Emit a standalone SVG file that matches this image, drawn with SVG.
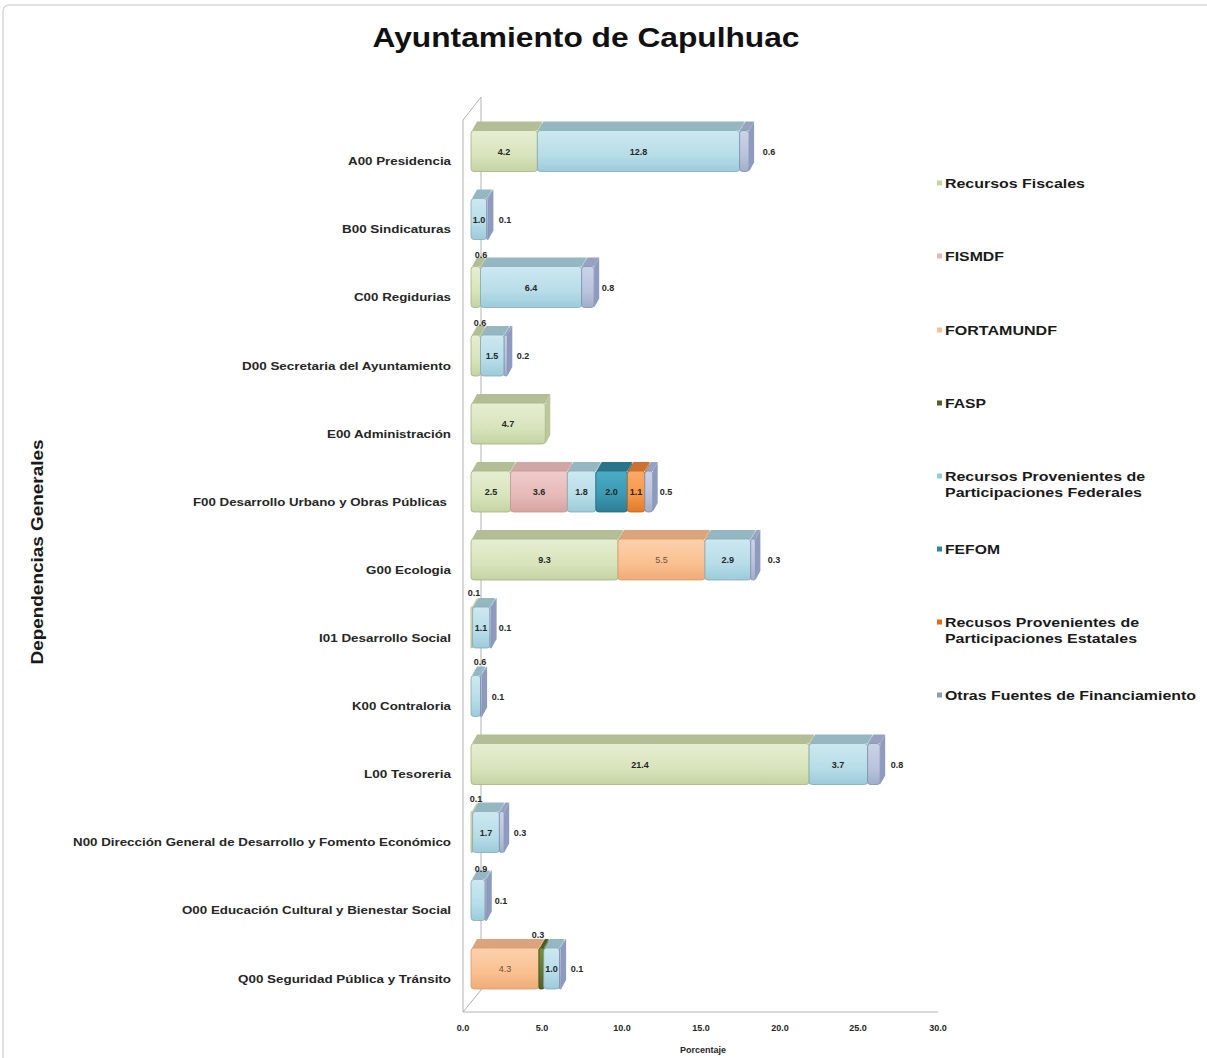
<svg xmlns="http://www.w3.org/2000/svg" width="1207" height="1058" viewBox="0 0 1207 1058">
<defs>
<linearGradient id="gFis" x1="0" y1="0" x2="0" y2="1"><stop offset="0" stop-color="#e6eed2"/><stop offset="0.6" stop-color="#d8e4bc"/><stop offset="1" stop-color="#c5d3a3"/></linearGradient>
<linearGradient id="gPink" x1="0" y1="0" x2="0" y2="1"><stop offset="0" stop-color="#efcccb"/><stop offset="0.6" stop-color="#e6b9b8"/><stop offset="1" stop-color="#d6a3a2"/></linearGradient>
<linearGradient id="gForta" x1="0" y1="0" x2="0" y2="1"><stop offset="0" stop-color="#fcd1ad"/><stop offset="0.6" stop-color="#fac090"/><stop offset="1" stop-color="#eeab77"/></linearGradient>
<linearGradient id="gFasp" x1="0" y1="0" x2="0" y2="1"><stop offset="0" stop-color="#77933c"/><stop offset="1" stop-color="#4f6228"/></linearGradient>
<linearGradient id="gFed" x1="0" y1="0" x2="0" y2="1"><stop offset="0" stop-color="#cde8f0"/><stop offset="0.6" stop-color="#b7dde8"/><stop offset="1" stop-color="#9ccbd9"/></linearGradient>
<linearGradient id="gFefom" x1="0" y1="0" x2="0" y2="1"><stop offset="0" stop-color="#4bacc6"/><stop offset="0.6" stop-color="#3b98b1"/><stop offset="1" stop-color="#2c7d93"/></linearGradient>
<linearGradient id="gEst" x1="0" y1="0" x2="0" y2="1"><stop offset="0" stop-color="#f9ab6b"/><stop offset="0.6" stop-color="#f79646"/><stop offset="1" stop-color="#e07a2a"/></linearGradient>
<linearGradient id="gOtr" x1="0" y1="0" x2="0" y2="1"><stop offset="0" stop-color="#cbd3e6"/><stop offset="0.6" stop-color="#b9c3dc"/><stop offset="1" stop-color="#a2aeca"/></linearGradient>
</defs>
<style>
text{font-family:"Liberation Sans",Arial,sans-serif;}
.cat{font-size:10px;font-weight:bold;fill:#262626;text-anchor:end;}
.val{font-size:9px;font-weight:bold;fill:#262626;text-anchor:middle;}
.valo{font-size:9px;fill:#6b5240;text-anchor:middle;}
.tick{font-size:9px;font-weight:bold;fill:#262626;text-anchor:middle;}
.leg{font-size:13px;font-weight:bold;fill:#1a1a1a;}
.wall{stroke:#b3b3b3;stroke-width:1;fill:none;}
.fis-f{fill:url(#gFis);stroke:#a6b282;stroke-width:0.8;}
.fis-t{fill:#b4be96;}
.fis-s{fill:#bcc79c;}
.pink-f{fill:url(#gPink);stroke:#c49696;stroke-width:0.8;}
.pink-t{fill:#cfa7a6;}
.pink-s{fill:#d4a9a8;}
.forta-f{fill:url(#gForta);stroke:#d89d70;stroke-width:0.8;}
.forta-t{fill:#dba47c;}
.forta-s{fill:#e3a87c;}
.fasp-f{fill:url(#gFasp);stroke:#3d4d1e;stroke-width:0.8;}
.fasp-t{fill:#4a5c25;}
.fasp-s{fill:#56702c;}
.fed-f{fill:url(#gFed);stroke:#86aab5;stroke-width:0.8;}
.fed-t{fill:#95b7c2;}
.fed-s{fill:#9dc2cd;}
.fefom-f{fill:url(#gFefom);stroke:#226b80;stroke-width:0.8;}
.fefom-t{fill:#2a7388;}
.fefom-s{fill:#2d7a8f;}
.est-f{fill:url(#gEst);stroke:#c4661d;stroke-width:0.8;}
.est-t{fill:#cc7230;}
.est-s{fill:#dd782a;}
.otr-f{fill:url(#gOtr);stroke:#7f8db0;stroke-width:0.8;}
.otr-t{fill:#96a2c0;}
.otr-s{fill:#8e9bbe;}
</style>
<rect x="0" y="0" width="1207" height="1058" fill="#ffffff"/>
<rect x="3" y="5" width="1214" height="1062" rx="6" fill="#ffffff" stroke="#d9d9d9" stroke-width="1.5"/>

<text x="586" y="47" font-size="27" font-weight="bold" text-anchor="middle" fill="#111111" textLength="427" lengthAdjust="spacingAndGlyphs">Ayuntamiento de Capulhuac</text>

<text transform="translate(43,552) rotate(-90)" font-size="16" font-weight="bold" text-anchor="middle" fill="#1a1a1a" textLength="225" lengthAdjust="spacingAndGlyphs">Dependencias Generales</text>

<g id="axes">
<line class="wall" x1="463" y1="120" x2="463" y2="1012"/>
<line class="wall" x1="481" y1="97" x2="481" y2="990"/>
<line class="wall" x1="463" y1="120" x2="481" y2="97"/>
<line class="wall" x1="463" y1="1012" x2="481" y2="990"/>
<line class="wall" x1="463" y1="1012" x2="938" y2="1012"/>
<text class="tick" x="463" y="1031">0.0</text>
<text class="tick" x="542" y="1031">5.0</text>
<text class="tick" x="622" y="1031">10.0</text>
<text class="tick" x="701" y="1031">15.0</text>
<text class="tick" x="780" y="1031">20.0</text>
<text class="tick" x="858" y="1031">25.0</text>
<text class="tick" x="938" y="1031">30.0</text>
<text class="tick" x="703" y="1053">Porcentaje</text>
</g>

<g id="cat-A00" transform="translate(0,161.5)">
<text class="cat" x="451" y="3.5" textLength="103" lengthAdjust="spacingAndGlyphs">A00 Presidencia</text>
<polygon class="fis-t" points="472,-31 477,-40 542.4,-40 537.4,-31"/><polygon class="fis-s" points="537.4,-31 542.4,-40 542.4,1 537.4,10"/><rect class="fis-f" x="471" y="-31" width="66.4" height="41" rx="3"/>
<polygon class="fed-t" points="538.4,-31 543.4,-40 744.6,-40 739.6,-31"/><polygon class="fed-s" points="739.6,-31 744.6,-40 744.6,1 739.6,10"/><rect class="fed-f" x="537.4" y="-31" width="202.2" height="41" rx="3"/>
<polygon class="otr-t" points="740.6,-31 745.6,-40 754.1,-40 749.1,-31"/><polygon class="otr-s" points="749.1,-31 754.1,-40 754.1,1 749.1,10"/><rect class="otr-f" x="739.6" y="-31" width="9.5" height="41" rx="3"/>
<text class="val" x="504" y="-7">4.2</text><text class="val" x="638.5" y="-7">12.8</text><text class="val" x="769" y="-7">0.6</text>
</g>

<g id="cat-B00" transform="translate(0,229.5)">
<text class="cat" x="451" y="3.5" textLength="109" lengthAdjust="spacingAndGlyphs">B00 Sindicaturas</text>
<polygon class="fed-t" points="472,-31 477,-40 491.8,-40 486.8,-31"/><polygon class="fed-s" points="486.8,-31 491.8,-40 491.8,1 486.8,10"/><rect class="fed-f" x="471" y="-31" width="15.8" height="41" rx="3"/>
<polygon class="otr-t" points="487.8,-31 492.8,-40 493.4,-40 488.4,-31"/><polygon class="otr-s" points="488.4,-31 493.4,-40 493.4,1 488.4,10"/><rect class="otr-f" x="486.8" y="-31" width="1.6" height="41" rx="0.8"/>
<text class="val" x="479" y="-7">1.0</text><text class="val" x="505" y="-7">0.1</text>
</g>

<g id="cat-C00" transform="translate(0,297.5)">
<text class="cat" x="451" y="3.5" textLength="97" lengthAdjust="spacingAndGlyphs">C00 Regidurias</text>
<polygon class="fis-t" points="472,-31 477,-40 485.5,-40 480.5,-31"/><polygon class="fis-s" points="480.5,-31 485.5,-40 485.5,1 480.5,10"/><rect class="fis-f" x="471" y="-31" width="9.5" height="41" rx="3"/>
<polygon class="fed-t" points="481.5,-31 486.5,-40 586.6,-40 581.6,-31"/><polygon class="fed-s" points="581.6,-31 586.6,-40 586.6,1 581.6,10"/><rect class="fed-f" x="480.5" y="-31" width="101.1" height="41" rx="3"/>
<polygon class="otr-t" points="582.6,-31 587.6,-40 599.2,-40 594.2,-31"/><polygon class="otr-s" points="594.2,-31 599.2,-40 599.2,1 594.2,10"/><rect class="otr-f" x="581.6" y="-31" width="12.6" height="41" rx="3"/>
<text class="val" x="481" y="-40">0.6</text><text class="val" x="531" y="-7">6.4</text><text class="val" x="608" y="-7">0.8</text>
</g>

<g id="cat-D00" transform="translate(0,366)">
<text class="cat" x="451" y="3.5" textLength="209" lengthAdjust="spacingAndGlyphs">D00 Secretaria del Ayuntamiento</text>
<polygon class="fis-t" points="472,-31 477,-40 485.5,-40 480.5,-31"/><polygon class="fis-s" points="480.5,-31 485.5,-40 485.5,1 480.5,10"/><rect class="fis-f" x="471" y="-31" width="9.5" height="41" rx="3"/>
<polygon class="fed-t" points="481.5,-31 486.5,-40 509.2,-40 504.2,-31"/><polygon class="fed-s" points="504.2,-31 509.2,-40 509.2,1 504.2,10"/><rect class="fed-f" x="480.5" y="-31" width="23.7" height="41" rx="3"/>
<polygon class="otr-t" points="505.2,-31 510.2,-40 512.3,-40 507.3,-31"/><polygon class="otr-s" points="507.3,-31 512.3,-40 512.3,1 507.3,10"/><rect class="otr-f" x="504.2" y="-31" width="3.1" height="41" rx="1.5"/>
<text class="val" x="480" y="-40">0.6</text><text class="val" x="492" y="-7">1.5</text><text class="val" x="523" y="-7">0.2</text>
</g>

<g id="cat-E00" transform="translate(0,434)">
<text class="cat" x="451" y="3.5" textLength="124" lengthAdjust="spacingAndGlyphs">E00 Administración</text>
<polygon class="fis-t" points="472,-31 477,-40 550.3,-40 545.3,-31"/><polygon class="fis-s" points="545.3,-31 550.3,-40 550.3,1 545.3,10"/><rect class="fis-f" x="471" y="-31" width="74.3" height="41" rx="3"/>
<text class="val" x="508" y="-7">4.7</text>
</g>

<g id="cat-F00" transform="translate(0,502)">
<text class="cat" x="447" y="3.5" textLength="254" lengthAdjust="spacingAndGlyphs">F00 Desarrollo Urbano y Obras Públicas</text>
<polygon class="fis-t" points="472,-31 477,-40 515.5,-40 510.5,-31"/><polygon class="fis-s" points="510.5,-31 515.5,-40 515.5,1 510.5,10"/><rect class="fis-f" x="471" y="-31" width="39.5" height="41" rx="3"/>
<polygon class="pink-t" points="511.5,-31 516.5,-40 572.4,-40 567.4,-31"/><polygon class="pink-s" points="567.4,-31 572.4,-40 572.4,1 567.4,10"/><rect class="pink-f" x="510.5" y="-31" width="56.9" height="41" rx="3"/>
<polygon class="fed-t" points="568.4,-31 573.4,-40 600.8,-40 595.8,-31"/><polygon class="fed-s" points="595.8,-31 600.8,-40 600.8,1 595.8,10"/><rect class="fed-f" x="567.4" y="-31" width="28.4" height="41" rx="3"/>
<polygon class="fefom-t" points="596.8,-31 601.8,-40 632.4,-40 627.4,-31"/><polygon class="fefom-s" points="627.4,-31 632.4,-40 632.4,1 627.4,10"/><rect class="fefom-f" x="595.8" y="-31" width="31.6" height="41" rx="3"/>
<polygon class="est-t" points="628.4,-31 633.4,-40 649.8,-40 644.8,-31"/><polygon class="est-s" points="644.8,-31 649.8,-40 649.8,1 644.8,10"/><rect class="est-f" x="627.4" y="-31" width="17.4" height="41" rx="3"/>
<polygon class="otr-t" points="645.8,-31 650.8,-40 657.7,-40 652.7,-31"/><polygon class="otr-s" points="652.7,-31 657.7,-40 657.7,1 652.7,10"/><rect class="otr-f" x="644.8" y="-31" width="7.9" height="41" rx="3"/>
<text class="val" x="491" y="-7">2.5</text><text class="val" x="539" y="-7">3.6</text><text class="val" x="581.6" y="-7">1.8</text><text class="val" x="611.6" y="-7">2.0</text><text class="val" x="636" y="-7">1.1</text><text class="val" x="666" y="-7">0.5</text>
</g>

<g id="cat-G00" transform="translate(0,570)">
<text class="cat" x="451" y="3.5" textLength="85" lengthAdjust="spacingAndGlyphs">G00 Ecologia</text>
<polygon class="fis-t" points="472,-31 477,-40 623,-40 618,-31"/><polygon class="fis-s" points="618,-31 623,-40 623,1 618,10"/><rect class="fis-f" x="471" y="-31" width="147" height="41" rx="3"/>
<polygon class="forta-t" points="619,-31 624,-40 709.9,-40 704.9,-31"/><polygon class="forta-s" points="704.9,-31 709.9,-40 709.9,1 704.9,10"/><rect class="forta-f" x="618" y="-31" width="86.9" height="41" rx="3"/>
<polygon class="fed-t" points="705.9,-31 710.9,-40 755.7,-40 750.7,-31"/><polygon class="fed-s" points="750.7,-31 755.7,-40 755.7,1 750.7,10"/><rect class="fed-f" x="704.9" y="-31" width="45.8" height="41" rx="3"/>
<polygon class="otr-t" points="751.7,-31 756.7,-40 760.4,-40 755.4,-31"/><polygon class="otr-s" points="755.4,-31 760.4,-40 760.4,1 755.4,10"/><rect class="otr-f" x="750.7" y="-31" width="4.7" height="41" rx="2"/>
<text class="val" x="544.5" y="-7">9.3</text><text class="valo" x="661.4" y="-7">5.5</text><text class="val" x="727.8" y="-7">2.9</text><text class="val" x="774" y="-7">0.3</text>
</g>

<g id="cat-I01" transform="translate(0,638)">
<text class="cat" x="451" y="3.5" textLength="132" lengthAdjust="spacingAndGlyphs">I01 Desarrollo Social</text>
<polygon class="fis-t" points="472,-31 477,-40 477.6,-40 472.6,-31"/><polygon class="fis-s" points="472.6,-31 477.6,-40 477.6,1 472.6,10"/><rect class="fis-f" x="471" y="-31" width="1.6" height="41" rx="0.8"/>
<polygon class="fed-t" points="473.6,-31 478.6,-40 495,-40 490,-31"/><polygon class="fed-s" points="490,-31 495,-40 495,1 490,10"/><rect class="fed-f" x="472.6" y="-31" width="17.4" height="41" rx="3"/>
<polygon class="otr-t" points="491,-31 496,-40 496.6,-40 491.6,-31"/><polygon class="otr-s" points="491.6,-31 496.6,-40 496.6,1 491.6,10"/><rect class="otr-f" x="490" y="-31" width="1.6" height="41" rx="0.8"/>
<text class="val" x="474" y="-42">0.1</text><text class="val" x="481" y="-7">1.1</text><text class="val" x="505" y="-7">0.1</text>
</g>

<g id="cat-K00" transform="translate(0,706.5)">
<text class="cat" x="451" y="3.5" textLength="99" lengthAdjust="spacingAndGlyphs">K00 Contraloria</text>
<polygon class="fed-t" points="472,-31 477,-40 485.5,-40 480.5,-31"/><polygon class="fed-s" points="480.5,-31 485.5,-40 485.5,1 480.5,10"/><rect class="fed-f" x="471" y="-31" width="9.5" height="41" rx="3"/>
<polygon class="otr-t" points="481.5,-31 486.5,-40 487.1,-40 482.1,-31"/><polygon class="otr-s" points="482.1,-31 487.1,-40 487.1,1 482.1,10"/><rect class="otr-f" x="480.5" y="-31" width="1.6" height="41" rx="0.8"/>
<text class="val" x="480" y="-42">0.6</text><text class="val" x="498" y="-7">0.1</text>
</g>

<g id="cat-L00" transform="translate(0,774.5)">
<text class="cat" x="451" y="3.5" textLength="87" lengthAdjust="spacingAndGlyphs">L00 Tesoreria</text>
<polygon class="fis-t" points="472,-31 477,-40 814.1,-40 809.1,-31"/><polygon class="fis-s" points="809.1,-31 814.1,-40 814.1,1 809.1,10"/><rect class="fis-f" x="471" y="-31" width="338.1" height="41" rx="3"/>
<polygon class="fed-t" points="810.1,-31 815.1,-40 872.6,-40 867.6,-31"/><polygon class="fed-s" points="867.6,-31 872.6,-40 872.6,1 867.6,10"/><rect class="fed-f" x="809.1" y="-31" width="58.5" height="41" rx="3"/>
<polygon class="otr-t" points="868.6,-31 873.6,-40 885.2,-40 880.2,-31"/><polygon class="otr-s" points="880.2,-31 885.2,-40 885.2,1 880.2,10"/><rect class="otr-f" x="867.6" y="-31" width="12.6" height="41" rx="3"/>
<text class="val" x="640" y="-7">21.4</text><text class="val" x="838" y="-7">3.7</text><text class="val" x="897" y="-7">0.8</text>
</g>

<g id="cat-N00" transform="translate(0,842.5)">
<text class="cat" x="451" y="3.5" textLength="378" lengthAdjust="spacingAndGlyphs">N00 Dirección General de Desarrollo y Fomento Económico</text>
<polygon class="fis-t" points="472,-31 477,-40 477.6,-40 472.6,-31"/><polygon class="fis-s" points="472.6,-31 477.6,-40 477.6,1 472.6,10"/><rect class="fis-f" x="471" y="-31" width="1.6" height="41" rx="0.8"/>
<polygon class="fed-t" points="473.6,-31 478.6,-40 504.4,-40 499.4,-31"/><polygon class="fed-s" points="499.4,-31 504.4,-40 504.4,1 499.4,10"/><rect class="fed-f" x="472.6" y="-31" width="26.8" height="41" rx="3"/>
<polygon class="otr-t" points="500.4,-31 505.4,-40 509.2,-40 504.2,-31"/><polygon class="otr-s" points="504.2,-31 509.2,-40 509.2,1 504.2,10"/><rect class="otr-f" x="499.4" y="-31" width="4.8" height="41" rx="2"/>
<text class="val" x="476" y="-41">0.1</text><text class="val" x="486" y="-7">1.7</text><text class="val" x="520" y="-7">0.3</text>
</g>

<g id="cat-O00" transform="translate(0,910.5)">
<text class="cat" x="451" y="3.5" textLength="269" lengthAdjust="spacingAndGlyphs">O00 Educación Cultural y Bienestar Social</text>
<polygon class="fed-t" points="472,-31 477,-40 490.2,-40 485.2,-31"/><polygon class="fed-s" points="485.2,-31 490.2,-40 490.2,1 485.2,10"/><rect class="fed-f" x="471" y="-31" width="14.2" height="41" rx="3"/>
<polygon class="otr-t" points="486.2,-31 491.2,-40 491.8,-40 486.8,-31"/><polygon class="otr-s" points="486.8,-31 491.8,-40 491.8,1 486.8,10"/><rect class="otr-f" x="485.2" y="-31" width="1.6" height="41" rx="0.8"/>
<text class="val" x="481" y="-39">0.9</text><text class="val" x="501" y="-7">0.1</text>
</g>

<g id="cat-Q00" transform="translate(0,979)">
<text class="cat" x="451" y="3.5" textLength="213" lengthAdjust="spacingAndGlyphs">Q00 Seguridad Pública y Tránsito</text>
<polygon class="forta-t" points="472,-31 477,-40 543.9,-40 538.9,-31"/><polygon class="forta-s" points="538.9,-31 543.9,-40 543.9,1 538.9,10"/><rect class="forta-f" x="471" y="-31" width="67.9" height="41" rx="3"/>
<polygon class="fasp-t" points="539.9,-31 544.9,-40 548.7,-40 543.7,-31"/><polygon class="fasp-s" points="543.7,-31 548.7,-40 548.7,1 543.7,10"/><rect class="fasp-f" x="538.9" y="-31" width="4.8" height="41" rx="1.5"/>
<polygon class="fed-t" points="544.7,-31 549.7,-40 564.5,-40 559.5,-31"/><polygon class="fed-s" points="559.5,-31 564.5,-40 564.5,1 559.5,10"/><rect class="fed-f" x="543.7" y="-31" width="15.8" height="41" rx="3"/>
<polygon class="otr-t" points="560.5,-31 565.5,-40 566.1,-40 561.1,-31"/><polygon class="otr-s" points="561.1,-31 566.1,-40 566.1,1 561.1,10"/><rect class="otr-f" x="559.5" y="-31" width="1.6" height="41" rx="0.8"/>
<text class="valo" x="505" y="-7">4.3</text><text class="val" x="538" y="-41">0.3</text><text class="val" x="551.5" y="-7">1.0</text><text class="val" x="577" y="-7">0.1</text>
</g>

<g id="legend">
<rect x="937" y="180.5" width="5" height="5" fill="#c4d79b"/>
<text class="leg" x="945" y="187.5" textLength="140" lengthAdjust="spacingAndGlyphs">Recursos Fiscales</text>
<rect x="937" y="253.5" width="5" height="5" fill="#e6b9b8"/>
<text class="leg" x="945" y="260.5" textLength="59" lengthAdjust="spacingAndGlyphs">FISMDF</text>
<rect x="937" y="327.5" width="5" height="5" fill="#fac090"/>
<text class="leg" x="945" y="334.5" textLength="112" lengthAdjust="spacingAndGlyphs">FORTAMUNDF</text>
<rect x="937" y="400.5" width="5" height="5" fill="#4f6228"/>
<text class="leg" x="945" y="407.5" textLength="41" lengthAdjust="spacingAndGlyphs">FASP</text>
<rect x="937" y="473.5" width="5" height="5" fill="#93cddd"/>
<text class="leg" x="945" y="480.5" textLength="200" lengthAdjust="spacingAndGlyphs">Recursos Provenientes de</text>
<text class="leg" x="945" y="496.5" textLength="197" lengthAdjust="spacingAndGlyphs">Participaciones Federales</text>
<rect x="937" y="546.5" width="5" height="5" fill="#31859c"/>
<text class="leg" x="945" y="553.5" textLength="55" lengthAdjust="spacingAndGlyphs">FEFOM</text>
<rect x="937" y="619.5" width="5" height="5" fill="#e46c0a"/>
<text class="leg" x="945" y="626.5" textLength="194" lengthAdjust="spacingAndGlyphs">Recusos Provenientes de</text>
<text class="leg" x="945" y="642.5" textLength="192" lengthAdjust="spacingAndGlyphs">Participaciones Estatales</text>
<rect x="937" y="692.5" width="5" height="5" fill="#8e9bbe"/>
<text class="leg" x="945" y="699.5" textLength="251" lengthAdjust="spacingAndGlyphs">Otras Fuentes de Financiamiento</text>
</g>
</svg>
